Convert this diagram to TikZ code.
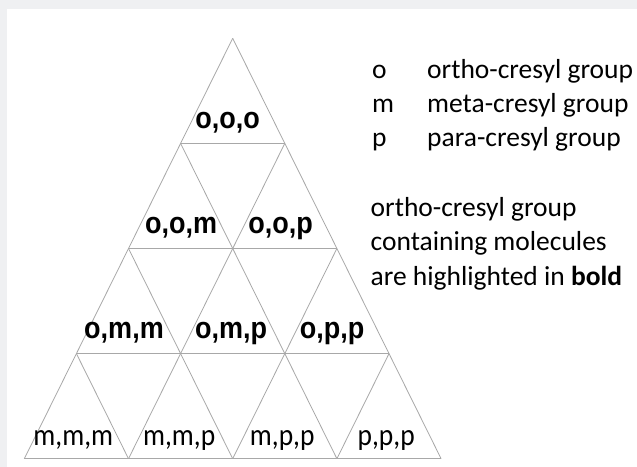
\documentclass[tikz,border=0pt]{standalone}
\usepackage{fontspec}
\setmainfont{Carlito}
\newfontfamily\labfont{Liberation Sans}
\usetikzlibrary{calc}
\definecolor{pagegray}{HTML}{EFF0F2}
\definecolor{gridgray}{HTML}{A8A8A8}
\newcommand{\stretchy}[1]{\scalebox{1}[1.12]{#1}}
\tikzset{
  gridline/.style={draw=gridgray, line width=0.8bp},
  boldlab/.style={anchor=base, inner sep=0pt, font=\labfont\bfseries\fontsize{27.1}{30}\selectfont},
  reglab/.style={anchor=base, inner sep=0pt, font=\fontsize{27.6}{30}\selectfont},
  legend/.style={anchor=base west, inner sep=0pt, font=\fontsize{27.6}{30}\selectfont}
}
\begin{document}
\begin{tikzpicture}[x=1bp,y=-1bp]
\useasboundingbox (0,0) rectangle (637,467);
\fill[pagegray] (0,0) rectangle (637,467);
\fill[white] (7,9.5) rectangle (637,467);
% vertices P-k-i
\foreach \k in {0,...,4}{
  \foreach \i in {0,...,\k}{
    \coordinate (P-\k-\i) at ({232.7-52.1*\k+104.2*\i},{38.3+105.1*\k});
  }
}
% horizontal lines
\foreach \k in {1,...,4}{
  \draw[gridline] (P-\k-0) -- (P-\k-\k);
}
% lines parallel to the left side
\foreach \i in {0,...,3}{
  \draw[gridline] (P-\i-\i) -- (P-4-\i);
}
% lines parallel to the right side
\foreach \j in {0,...,3}{
  \pgfmathtruncatemacro{\e}{4-\j}
  \draw[gridline] (P-\j-0) -- (P-4-\e);
}
% labels
\node[boldlab] (ooo) at (227.5,128.3) {\stretchy{o,o,o}};
\node[boldlab] (oom) at (181,233.3) {\stretchy{o,o,m}};
\node[boldlab] (oop) at (280.5,233.3) {\stretchy{o,o,p}};
\node[boldlab] (omm) at (124,338.3) {\stretchy{o,m,m}};
\node[boldlab] (omp) at (231,338.3) {\stretchy{o,m,p}};
\node[boldlab] (opp) at (332,338.3) {\stretchy{o,p,p}};
\node[reglab] (mmm) at (73.3,445.7) {\stretchy{m,m,m}};
\node[reglab] (mmp) at (179.2,445.7) {\stretchy{m,m,p}};
\node[reglab] (mpp) at (282.2,445.7) {\stretchy{m,p,p}};
\node[reglab] (ppp) at (386.2,445.7) {\stretchy{p,p,p}};
% legend
\node[legend] (ko) at (372,78.3) {o};
\node[legend] (km) at (372,112.5) {m};
\node[legend] (kp) at (372,146.7) {p};
\node[legend] (vo) at (427,78.3) {ortho-cresyl group};
\node[legend] (vm) at (427,112.5) {meta-cresyl group};
\node[legend] (vp) at (427,146.7) {para-cresyl group};
\node[legend] (n1) at (370.5,216.7) {ortho-cresyl group};
\node[legend] (n2) at (370.5,250.9) {containing molecules};
\node[legend] (n3) at (370.5,285.1) {are highlighted in \textbf{bold}};
\end{tikzpicture}
\end{document}
